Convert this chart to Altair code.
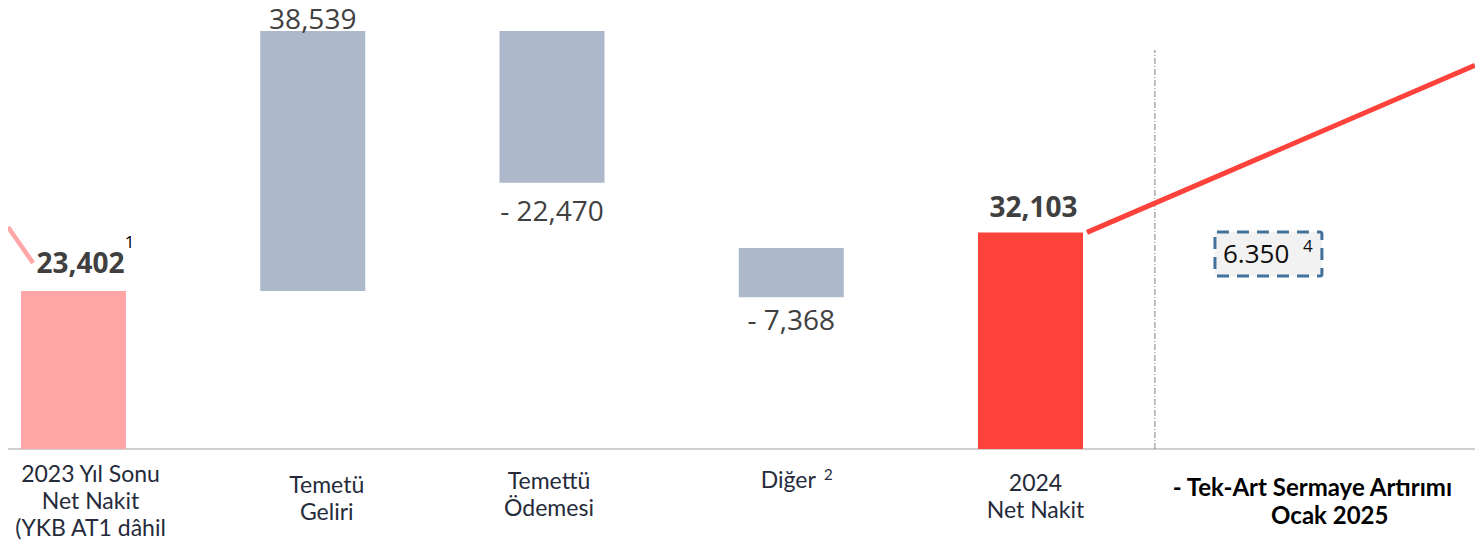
import altair as alt
import pandas as pd

# ---------------- data ----------------
categories = ["2023 Yıl Sonu\nNet Nakit\n(YKB AT1 dâhil", "Temetü\nGeliri", "Temettü\nÖdemesi",
              "Diğer", "2024\nNet Nakit", "- Tek-Art Sermaye Artırımı\nOcak 2025"]
bar_start = [0, 23402, 61941, 29790, 0]
bar_end = [23402, 61941, 39471, 22480, 32103]
bar_labels = ["23,402", "38,539", "- 22,470", "- 7,368", "32,103"]
bar_kind = ["start", "step", "step", "step", "end"]
box_value = "6.350"
footnotes = ["1", "2", "4"]
pink_line_values = [32900, 27568]
red_line_values = [32103, 56855]
box_values = [32163, 25641]
divider_top = 59137

# ---------------- layout ----------------
W, H = 1467, 534
XD = [-0.27377, 5.8579]
YD = [-13784, 65362]
xs = alt.Scale(domain=XD, nice=False, zero=False)
ys = alt.Scale(domain=YD, nice=False, zero=False)
half = 0.2195
NUM_FONT = "Open Sans"
CAT_FONT = "Lato"

bars = pd.DataFrame({
    "i": list(range(5)),
    "y0": bar_start,
    "y1": bar_end,
    "kind": bar_kind,
    "label": bar_labels,
})
bars["x0"] = bars["i"] - half
bars["x1"] = bars["i"] + half

color_scale = alt.Scale(domain=["start", "step", "end"], range=["#ffa6a6", "#adb9cb", "#fd423b"])

bar_layer = alt.Chart(bars).mark_rect().encode(
    x=alt.X("x0:Q", scale=xs, axis=None),
    x2="x1",
    y=alt.Y("y0:Q", scale=ys, axis=None),
    y2="y1",
    color=alt.Color("kind:N", scale=color_scale, legend=None),
)

base_df = pd.DataFrame({"x": [XD[0]], "x2": [XD[1]], "y": [0]})
baseline = alt.Chart(base_df).mark_rule(color="#cfcfcf", strokeWidth=2).encode(
    x=alt.X("x:Q", scale=xs, axis=None), x2="x2", y=alt.Y("y:Q", scale=ys, axis=None))

div_df = pd.DataFrame({"x": [4.52], "y": [0], "y2": [divider_top]})
divider = alt.Chart(div_df).mark_rule(color="#7f7f7f", strokeWidth=1, strokeDash=[6, 2, 1, 2]).encode(
    x=alt.X("x:Q", scale=xs, axis=None), y=alt.Y("y:Q", scale=ys, axis=None), y2="y2")

pink_df = pd.DataFrame({"x": [-0.2738], "x2": [-0.169], "y": [pink_line_values[0]], "y2": [pink_line_values[1]]})
pink = alt.Chart(pink_df).mark_rule(color="#ffa6a6", strokeWidth=4.5).encode(
    x=alt.X("x:Q", scale=xs, axis=None), x2="x2", y=alt.Y("y:Q", scale=ys, axis=None), y2="y2")

red_df = pd.DataFrame({"x": [4.236], "x2": [5.8579], "y": [red_line_values[0]], "y2": [red_line_values[1]]})
red = alt.Chart(red_df).mark_rule(color="#fd423b", strokeWidth=5).encode(
    x=alt.X("x:Q", scale=xs, axis=None), x2="x2", y=alt.Y("y:Q", scale=ys, axis=None), y2="y2")

box_df = pd.DataFrame({"x": [4.771], "x2": [5.218], "y": [box_values[0]], "y2": [box_values[1]]})
box = alt.Chart(box_df).mark_rect(fill="#f2f2f2", stroke="#41719c", strokeWidth=3,
                                  strokeDash=[12, 8], cornerRadius=2).encode(
    x=alt.X("x:Q", scale=xs, axis=None), x2="x2", y=alt.Y("y:Q", scale=ys, axis=None), y2="y2")

def num_text(idx, val_col, dx, dy, bold):
    d = bars.iloc[[idx]]
    return alt.Chart(d).mark_text(font=NUM_FONT, fontSize=28, fontWeight="bold" if bold else "normal",
                                  color="#404040", dx=dx, dy=dy, baseline="middle", align="center").encode(
        x=alt.X("i:Q", scale=xs, axis=None), y=alt.Y(f"{val_col}:Q", scale=ys, axis=None), text="label:N")

num_layers = [
    num_text(0, "y1", 7, -26, True),
    num_text(1, "y1", 0, -10, False),
    num_text(2, "y1", 0, 30, False),
    num_text(3, "y1", 0, 25, False),
    num_text(4, "y1", 3, -23, True),
]

def free_text(txt, i, ypix, size, dx=0, bold=False, color="#262b3b", align="center", font=CAT_FONT, lh=27):
    d = pd.DataFrame({"i": [i], "t": [txt]})
    return alt.Chart(d).mark_text(font=font, fontSize=size, fontWeight="bold" if bold else "normal",
                                  color=color, dx=dx, baseline="middle", align=align, lineBreak="\n",
                                  lineHeight=lh).encode(
        x=alt.X("i:Q", scale=xs, axis=None), y=alt.value(ypix), text="t:N")

last_lines = categories[5].split("\n")
cat_layers = [
    free_text(categories[0], 0, 475 - 8, 23, dx=17),
    free_text(categories[1], 1, 486 - 8, 23, dx=14),
    free_text(categories[2], 2, 482 - 8, 23, dx=-3),
    free_text(categories[3], 3, 481 - 8, 23, dx=-3),
    free_text(categories[4], 4, 484 - 8, 23, dx=5),
    free_text(last_lines[0], 5, 489 - 8, 24, dx=-97, bold=True, color="#000000", align="left"),
    free_text(last_lines[1], 5, 517 - 8, 24, dx=60, bold=True, color="#000000"),
]

sup_layers = [
    free_text(footnotes[0], 0, 243 - 8, 17, dx=56, color="#000000", font=NUM_FONT),
    free_text(footnotes[1], 3, 475 - 8, 15, dx=37, font=CAT_FONT),
    free_text(box_value, 4.771, 255 - 8, 26, dx=8, color="#0d0d0d", align="left", font=NUM_FONT),
    free_text(footnotes[2], 4.771, 247 - 8, 17, dx=93, color="#0d0d0d", font=NUM_FONT),
]

chart = alt.layer(baseline, divider, pink, red, bar_layer, box, *num_layers, *cat_layers, *sup_layers).properties(
    width=W, height=H, padding=0, autosize=alt.AutoSizeParams(type="none")
).configure_view(stroke=None)

chart.save("out.html", embed_options={"renderer": "svg", "actions": False})
